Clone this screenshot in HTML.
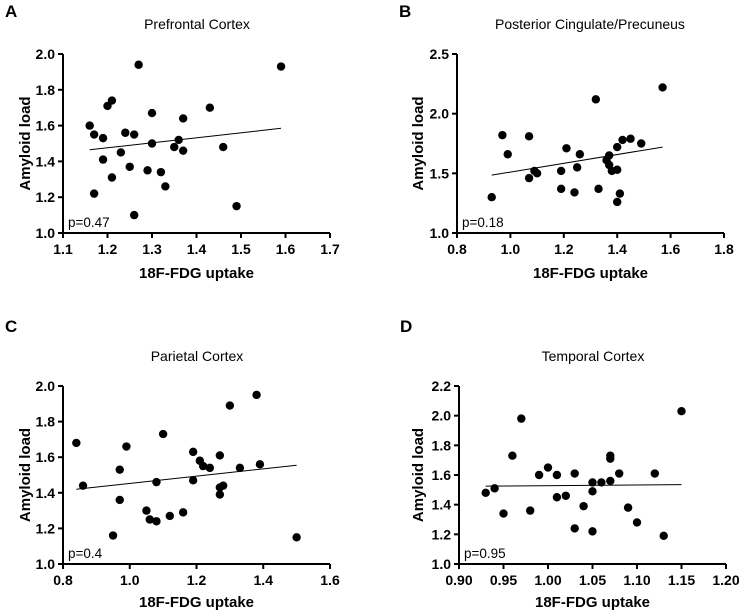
<!DOCTYPE html>
<html><head><meta charset="utf-8"><style>
html,body{margin:0;padding:0;background:#fff;width:740px;height:611px;overflow:hidden}
svg{display:block;font-family:"Liberation Sans",Arial,sans-serif}
</style></head><body>
<svg id="fig" width="740" height="611" viewBox="0 0 740 611"></svg>
<script>
const titles=["Prefrontal Cortex","Posterior Cingulate/Precuneus","Parietal Cortex","Temporal Cortex"];
const letters=["A","B","C","D"];
const pvals=["p=0.47","p=0.18","p=0.4","p=0.95"];
const xTicksA=[1.1,1.2,1.3,1.4,1.5,1.6,1.7];
const yTicksA=[1.0,1.2,1.4,1.6,1.8,2.0];
const xTicksB=[0.8,1.0,1.2,1.4,1.6,1.8];
const yTicksB=[1.0,1.5,2.0,2.5];
const xTicksC=[0.8,1.0,1.2,1.4,1.6];
const yTicksC=[1.0,1.2,1.4,1.6,1.8,2.0];
const xTicksD=[0.90,0.95,1.00,1.05,1.10,1.15,1.20];
const yTicksD=[1.0,1.2,1.4,1.6,1.8,2.0,2.2];
const xA=[1.16,1.17,1.17,1.19,1.19,1.20,1.21,1.21,1.23,1.24,1.25,1.26,1.26,1.27,1.29,1.30,1.30,1.32,1.33,1.35,1.36,1.37,1.37,1.43,1.46,1.49,1.59];
const yA=[1.60,1.55,1.22,1.53,1.41,1.71,1.74,1.31,1.45,1.56,1.37,1.55,1.10,1.94,1.35,1.67,1.50,1.34,1.26,1.48,1.52,1.64,1.46,1.70,1.48,1.15,1.93];
const xB=[0.93,0.97,0.99,1.07,1.07,1.09,1.10,1.19,1.19,1.21,1.24,1.25,1.26,1.32,1.33,1.36,1.37,1.37,1.38,1.40,1.40,1.40,1.41,1.42,1.45,1.49,1.57];
const yB=[1.30,1.82,1.66,1.81,1.46,1.52,1.50,1.52,1.37,1.71,1.34,1.55,1.66,2.12,1.37,1.61,1.65,1.57,1.52,1.72,1.53,1.26,1.33,1.78,1.79,1.75,2.22];
const xC=[0.84,0.86,0.95,0.97,0.97,0.99,1.05,1.06,1.08,1.08,1.10,1.12,1.16,1.19,1.19,1.21,1.22,1.24,1.27,1.27,1.27,1.28,1.30,1.33,1.38,1.39,1.50];
const yC=[1.68,1.44,1.16,1.53,1.36,1.66,1.30,1.25,1.46,1.24,1.73,1.27,1.29,1.63,1.47,1.58,1.55,1.54,1.61,1.43,1.39,1.44,1.89,1.54,1.95,1.56,1.15];
const xD=[0.93,0.94,0.95,0.96,0.97,0.98,0.99,1.00,1.01,1.01,1.02,1.03,1.03,1.04,1.05,1.05,1.05,1.06,1.07,1.07,1.07,1.08,1.09,1.10,1.12,1.13,1.15];
const yD=[1.48,1.51,1.34,1.73,1.98,1.36,1.60,1.65,1.60,1.45,1.46,1.61,1.24,1.39,1.55,1.49,1.22,1.55,1.73,1.71,1.56,1.61,1.38,1.28,1.61,1.19,2.03];
const fitX=[[1.16,1.59],[0.93,1.57],[0.84,1.50],[0.93,1.15]];
const fitY=[[1.465,1.585],[1.485,1.72],[1.42,1.555],[1.525,1.535]];

const NS="http://www.w3.org/2000/svg";
const svg=document.getElementById('fig');
function mk(tag,attrs,parent,text){const e=document.createElementNS(NS,tag);for(const k in attrs)e.setAttribute(k,attrs[k]);if(text!==undefined)e.textContent=text;(parent||svg).appendChild(e);return e;}
const panels=[
 {xs:xA,ys:yA,xt:xTicksA,yt:yTicksA,x0:63,x1:330,y0:233,y1:54,dec:1,ydec:1,lx:5,ly:17,tx:197,ty:29,ytx:25,xtty:278},
 {xs:xB,ys:yB,xt:xTicksB,yt:yTicksB,x0:457,x1:724,y0:233,y1:54,dec:1,ydec:1,lx:399,ly:17,tx:590,ty:29,ytx:418,xtty:278},
 {xs:xC,ys:yC,xt:xTicksC,yt:yTicksC,x0:63,x1:330,y0:564,y1:386,dec:1,ydec:1,lx:5,ly:332,tx:197,ty:361,ytx:25,xtty:607},
 {xs:xD,ys:yD,xt:xTicksD,yt:yTicksD,x0:459,x1:726,y0:564,y1:386,dec:2,ydec:1,lx:400,ly:332,tx:593,ty:361,ytx:418,xtty:607}
];
panels.forEach((p,i)=>{
 const g=mk('g',{});
 
 
 const xmin=p.xt[0],xmax=p.xt[p.xt.length-1],ymin=p.yt[0],ymax=p.yt[p.yt.length-1];
 const sx=v=>p.x0+(v-xmin)/(xmax-xmin)*(p.x1-p.x0);
 const sy=v=>p.y0-(v-ymin)/(ymax-ymin)*(p.y0-p.y1);
 const L=mk('text',{x:p.lx,y:p.ly,'font-size':17,'font-weight':'bold'},g,letters[i]);
 
 
 const T=mk('text',{x:p.tx,y:p.ty,'font-size':14,'text-anchor':'middle'},g,titles[i]);
 
 
 const ax=mk('path',{d:`M${p.x0},${p.y1}V${p.y0}H${p.x1}`,stroke:'#000','stroke-width':2,fill:'none'},g);
 
 
 p.yt.forEach(v=>{
  mk('line',{x1:p.x0-5,x2:p.x0,y1:sy(v),y2:sy(v),stroke:'#000','stroke-width':2},g);
  const t=mk('text',{x:p.x0-8,y:sy(v)+5,'font-size':14,'font-weight':'bold','text-anchor':'end'},g,v.toFixed(p.ydec));
  
  
 });
 p.xt.forEach(v=>{
  mk('line',{x1:sx(v),x2:sx(v),y1:p.y0,y2:p.y0+5,stroke:'#000','stroke-width':2},g);
  const t=mk('text',{x:sx(v),y:p.y0+21,'font-size':14,'font-weight':'bold','text-anchor':'middle'},g,v.toFixed(p.dec));
  
  
 });
 const yl=mk('text',{x:0,y:0,'font-size':15,'font-weight':'bold','text-anchor':'middle',transform:`translate(${p.ytx+5},${(p.y0+p.y1)/2}) rotate(-90)`},g,'Amyloid load');
 
 
 const xl=mk('text',{x:(p.x0+p.x1)/2,y:p.xtty,'font-size':15,'font-weight':'bold','text-anchor':'middle'},g,'18F-FDG uptake');
 
 
 const fl=mk('line',{x1:sx(fitX[i][0]),x2:sx(fitX[i][1]),y1:sy(fitY[i][0]),y2:sy(fitY[i][1]),stroke:'#000','stroke-width':1},g);
 
 
 p.xs.forEach((x,j)=>{
  const c=mk('circle',{cx:sx(x),cy:sy(p.ys[j]),r:4.2,fill:'#000'},g);
  
  
 });
 const pv=mk('text',{x:p.x0+5,y:p.y0-6,'font-size':13.5},g,pvals[i]);
 
 
});
</script>
</body></html>
